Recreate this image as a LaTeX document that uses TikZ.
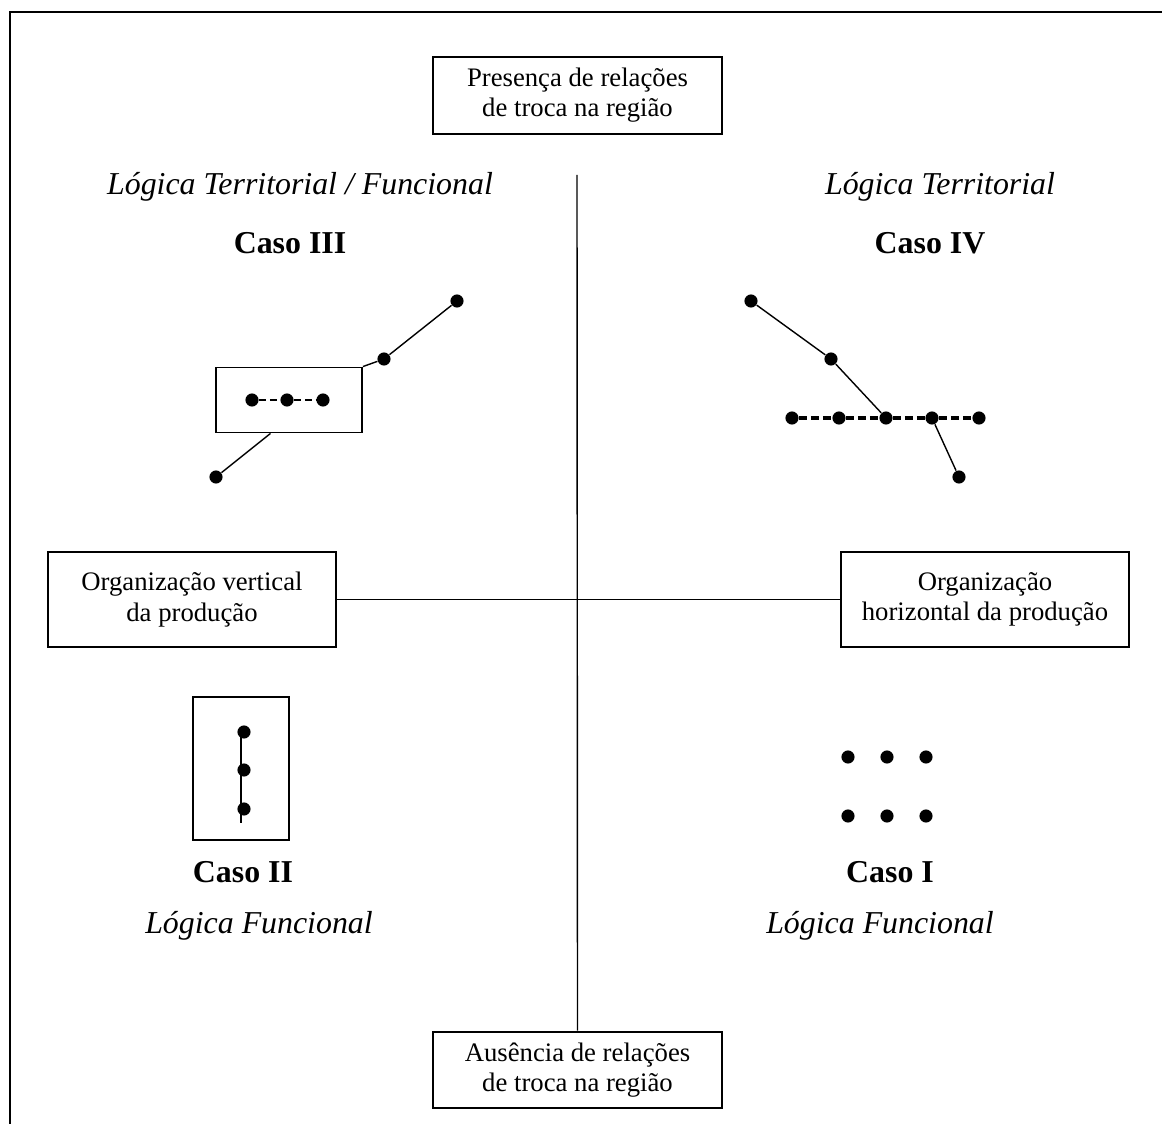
\documentclass[tikz,border=0pt]{standalone}
\usepackage{fontspec}
\setmainfont{Liberation Serif}
\usetikzlibrary{positioning}
\tikzset{
  quadbox/.style={
    rectangle, draw=black, line width=0.8pt, align=center,
    inner sep=2pt, font=\fontsize{11.4}{12.9}\selectfont
  },
  axisbox/.style={quadbox, minimum width=4.32cm, minimum height=1.42cm},
  poleBox/.style={quadbox, minimum width=4.33cm, minimum height=1.15cm},
  logicLabel/.style={font=\fontsize{13.6}{15}\selectfont\itshape},
  caseLabel/.style={font=\fontsize{13.6}{15}\selectfont\bfseries},
  netdot/.style={circle, fill=black, inner sep=0pt, minimum size=5.6pt},
  netline/.style={line width=0.6pt},
  axisline/.style={line width=0.6pt}
}

\begin{document}
\begin{tikzpicture}[x=0.015cm, y=-0.015cm]
  \useasboundingbox (0,0) rectangle (1162,1124);
  % frame
  \draw[line width=0.9pt] (10,1124) -- (10,12) -- (1162,12);

  % axes and their poles
  \node[poleBox] (presence) at (577.5,95.5)
    {Presença de relações\\de troca na região};
  \node[poleBox] (absence) at (577.5,1070)
    {Ausência de relações\\de troca na região};
  \node[axisbox] (vert) at (192,599.5)
    {Organização vertical\\da produção};
  \node[axisbox] (horiz) at (985,599.5)
    {Organização\\horizontal da produção};
  \coordinate (vtop) at (577,175);
  \draw[axisline] (vtop) -- (absence.north);
  \draw[axisline] (vert.east) -- (horiz.west);

  % headings
  \node[logicLabel] (logic3) at (300,187) {Lógica Territorial / Funcional};
  \node[logicLabel] (logic4) at (940,187) {Lógica Territorial};
  \node[caseLabel] (case3) at (290,243) {Caso III};
  \node[caseLabel] (case4) at (930,243) {Caso IV};
  \node[caseLabel] (case2) at (243,872) {Caso II};
  \node[caseLabel] (case1) at (890,872) {Caso I};
  \node[logicLabel] (logic2) at (259,926) {Lógica Funcional};
  \node[logicLabel] (logic1) at (880,926) {Lógica Funcional};

  % Caso III
  \node[quadbox, minimum width=2.19cm, minimum height=0.975cm] (c3box) at (289,400) {};
  \node[netdot] (c3a) at (457,301) {};
  \node[netdot] (c3b) at (384,359) {};
  \node[netdot] (c3c) at (216,477) {};
  \node[netdot] (c3i1) at (252,400) {};
  \node[netdot] (c3i2) at (287,400) {};
  \node[netdot] (c3i3) at (323,400) {};
  \draw[netline] (c3a) -- (c3b);
  \draw[netline] (c3b) -- (c3box.north east);
  \draw[netline] (c3box.241) -- (c3c);
  \draw[netline, dash pattern=on 3pt off 1.6pt] (c3i1) -- (c3i2) -- (c3i3);

  % Caso IV
  \node[netdot] (c4a) at (751,301) {};
  \node[netdot] (c4b) at (831,359) {};
  \node[netdot] (c4r1) at (792,418) {};
  \node[netdot] (c4r2) at (839,418) {};
  \node[netdot] (c4c) at (886,418) {};
  \node[netdot] (c4r4) at (932,418) {};
  \node[netdot] (c4r5) at (979,418) {};
  \node[netdot] (c4e) at (959,477) {};
  \draw[netline] (c4a) -- (c4b) -- (c4c);
  \draw[line width=1.3pt, dash pattern=on 3.4pt off 1.7pt]
    (c4r1) -- (c4r2) -- (c4c) -- (c4r4) -- (c4r5);
  \draw[netline] (c4r4) -- (c4e);

  % Caso II
  \node[quadbox, minimum width=1.44cm, minimum height=2.145cm] (c2box) at (241,768.5) {};
  \coordinate (c2top) at (241,730);
  \coordinate (c2bot) at (241,823);
  \draw[line width=0.8pt] (c2top) -- (c2bot);
  \node[netdot] (c2a) at (244,732) {};
  \node[netdot] (c2b) at (244,770) {};
  \node[netdot] (c2c) at (244,809) {};

  % Caso I
  \foreach \col in {848,887,926}
    \foreach \row in {757,816}
      \node[netdot] (c1-\col-\row) at (\col,\row) {};
\end{tikzpicture}
\end{document}
